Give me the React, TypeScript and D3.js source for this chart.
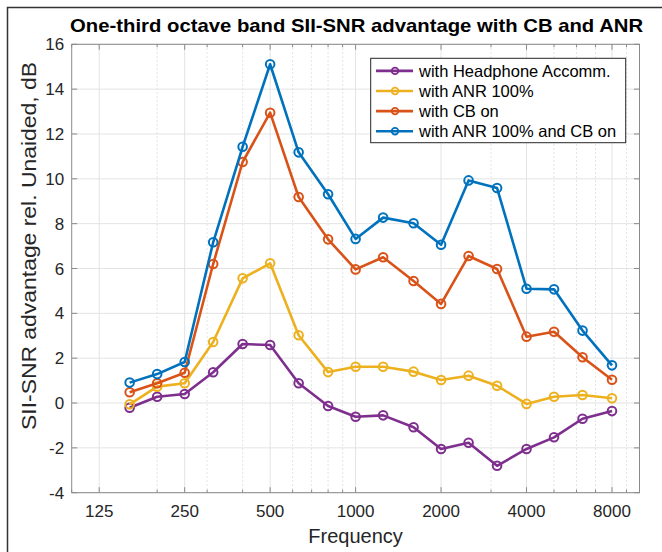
import React from "react";
import * as d3 from "d3";

const freqs = [160, 200, 250, 315, 400, 500, 630, 800, 1000, 1250, 1600, 2000, 2500, 3150, 4000, 5000, 6300, 8000];
const headphone = [-0.21, 0.28, 0.4, 1.37, 2.63, 2.59, 0.88, -0.13, -0.61, -0.55, -1.08, -2.05, -1.77, -2.8, -2.05, -1.53, -0.7, -0.36];
const anr = [-0.06, 0.73, 0.88, 2.72, 5.56, 6.23, 3.02, 1.38, 1.62, 1.62, 1.4, 1.03, 1.22, 0.77, -0.04, 0.28, 0.36, 0.21];
const cbOn = [0.48, 0.88, 1.35, 6.2, 10.75, 12.95, 9.19, 7.3, 5.96, 6.5, 5.44, 4.42, 6.56, 5.98, 2.96, 3.18, 2.04, 1.04];
const anrCb = [0.91, 1.29, 1.83, 7.17, 11.43, 15.11, 11.18, 9.31, 7.32, 8.27, 8.02, 7.06, 9.93, 9.59, 5.1, 5.07, 3.23, 1.68];

const seriesNames = ["with Headphone Accomm.", "with ANR 100%", "with CB on", "with ANR 100% and CB on"];
const seriesColors = ["#7E2F8E", "#EDB120", "#D95319", "#0072BD"];
const seriesValues = [headphone, anr, cbOn, anrCb];

const xMajorTicks = [125, 250, 500, 1000, 2000, 4000, 8000];
const xMinorTicks = [100, 200, 300, 400, 600, 700, 800, 900, 3000, 5000, 6000, 7000, 9000, 10000];
const yTicks = [-4, -2, 0, 2, 4, 6, 8, 10, 12, 14, 16];

const titleText = "One-third octave band SII-SNR advantage with CB and ANR";
const xLabel = "Frequency";
const yLabel = "SII-SNR advantage rel. Unaided, dB";

export default function App() {
  const W = 662, H = 552;
  const L = 71.7, R = 639.5, T = 44.3, B = 492.7;
  const x = d3.scaleLog().domain([100, 10000]).range([L, R]);
  const y = d3.scaleLinear().domain([-4, 16]).range([B, T]);
  const line = d3.line<[number, number]>().x(d => x(d[0])).y(d => y(d[1]));
  const font = "'Liberation Sans', Arial, Helvetica, sans-serif";
  const axisColor = "#8a8a8a";
  const textColor = "#262626";

  const legX = 370.7, legY = 58.3, legW = 255, legH = 84.4;
  const rowY = (i: number) => legY + 12.6 + i * 20.1;

  return (
    <svg width={W} height={H} style={{ position: "absolute", left: 0, top: 0, background: "#fff" }} fontFamily={font}>
      <rect x={0} y={0} width={W} height={H} fill="#fff" />
      <path d={`M7.5,${H} V7.5 H${W}`} fill="none" stroke="#333" strokeWidth={1.5} />
      {/* grid */}
      {yTicks.map(t => (
        <line key={"gy" + t} x1={L} x2={R} y1={y(t)} y2={y(t)} stroke="#e3e3e3" strokeWidth={1} />
      ))}
      {xMinorTicks.filter(t => t > 100 && t < 10000).map(t => (
        <line key={"gmx" + t} x1={x(t)} x2={x(t)} y1={T} y2={B} stroke="#d2d2d2" strokeWidth={0.8} strokeDasharray="1.5,2.5" />
      ))}
      {xMajorTicks.map(t => (
        <line key={"gx" + t} x1={x(t)} x2={x(t)} y1={T} y2={B} stroke="#e3e3e3" strokeWidth={1} />
      ))}
      {/* axes box */}
      <rect x={L} y={T} width={R - L} height={B - T} fill="none" stroke={axisColor} strokeWidth={1} />
      {/* ticks */}
      {xMajorTicks.map(t => (
        <g key={"tx" + t}>
          <line x1={x(t)} x2={x(t)} y1={B} y2={B - 5.5} stroke={axisColor} />
          <line x1={x(t)} x2={x(t)} y1={T} y2={T + 5.5} stroke={axisColor} />
        </g>
      ))}
      {xMinorTicks.map(t => (
        <g key={"tmx" + t}>
          <line x1={x(t)} x2={x(t)} y1={B} y2={B - 3} stroke={axisColor} />
          <line x1={x(t)} x2={x(t)} y1={T} y2={T + 3} stroke={axisColor} />
        </g>
      ))}
      {yTicks.map(t => (
        <g key={"ty" + t}>
          <line x1={L} x2={L + 5.5} y1={y(t)} y2={y(t)} stroke={axisColor} />
          <line x1={R} x2={R - 5.5} y1={y(t)} y2={y(t)} stroke={axisColor} />
        </g>
      ))}
      {/* tick labels */}
      {xMajorTicks.map(t => (
        <text key={"lx" + t} x={x(t)} y={B + 24} textAnchor="middle" fontSize={17} fill={textColor}>{t}</text>
      ))}
      {yTicks.map(t => (
        <text key={"ly" + t} x={L - 7.5} y={y(t) + 6} textAnchor="end" fontSize={17} fill={textColor}>{t}</text>
      ))}
      {/* series */}
      {seriesValues.map((vals, si) => {
        const pts = freqs.map((f, i) => [f, vals[i]] as [number, number]);
        return (
          <g key={"s" + si}>
            <path d={line(pts) || ""} fill="none" stroke={seriesColors[si]} strokeWidth={2.6} strokeLinejoin="round" />
            {pts.map((p, i) => (
              <circle key={i} cx={x(p[0])} cy={y(p[1])} r={4.3} fill="none" stroke={seriesColors[si]} strokeWidth={2} />
            ))}
          </g>
        );
      })}
      {/* legend */}
      <rect x={legX} y={legY} width={legW} height={legH} fill="#fff" stroke="#262626" strokeWidth={1} />
      {seriesNames.map((n, i) => (
        <g key={"lg" + i}>
          <line x1={376} x2={413} y1={rowY(i)} y2={rowY(i)} stroke={seriesColors[i]} strokeWidth={2.6} />
          <circle cx={395} cy={rowY(i)} r={3.3} fill="none" stroke={seriesColors[i]} strokeWidth={1.8} />
          <text x={419} y={rowY(i) + 5.7} fontSize={16.5} fill="#000">{n}</text>
        </g>
      ))}
      {/* labels */}
      <text x={(L + R) / 2 + 1} y={32} textAnchor="middle" fontSize={19} fontWeight="bold" fill="#000" textLength={573} lengthAdjust="spacingAndGlyphs">{titleText}</text>
      <text x={(L + R) / 2} y={543} textAnchor="middle" fontSize={20} fill={textColor}>{xLabel}</text>
      <text transform={`translate(36,246) rotate(-90)`} textAnchor="middle" fontSize={20.5} fill={textColor} textLength={368} lengthAdjust="spacingAndGlyphs">{yLabel}</text>
    </svg>
  );
}
